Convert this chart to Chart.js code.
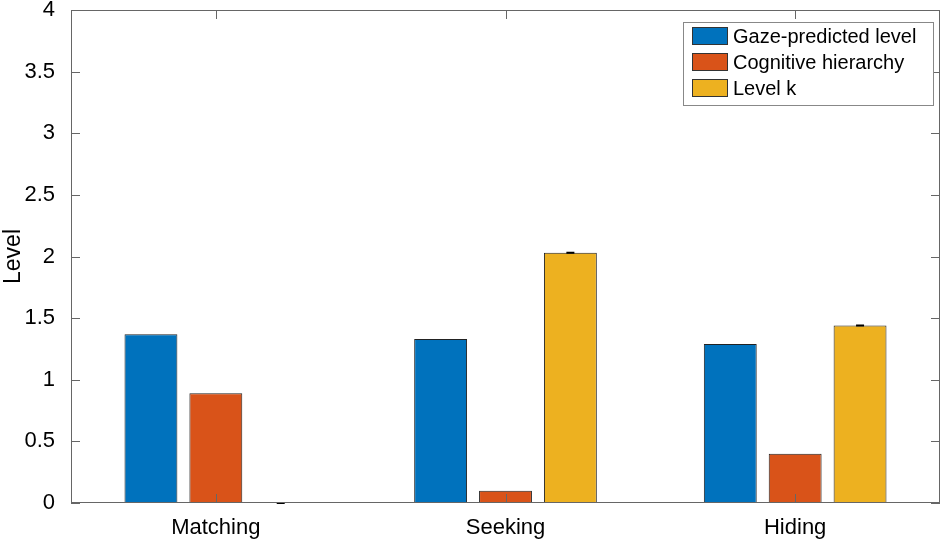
<!DOCTYPE html>
<html>
<head>
<meta charset="utf-8">
<script src="https://cdn.jsdelivr.net/npm/chart.js@4"></script>
<style>
  html, body { margin: 0; padding: 0; background: #fff; }
  #wrap { width: 945px; height: 541px; }
</style>
</head>
<body>
<div id="wrap"><canvas id="chart"></canvas></div>
<script>
// ----------------- Data -----------------
const categories = ["Matching", "Seeking", "Hiding"];
const gazeLevel = [1.37, 1.33, 1.29];
const cognitiveHierarchy = [0.89, 0.10, 0.40];
const levelK = [0.0, 2.03, 1.44];
const levelKErr = [0.003, 0.003, 0.003];
const yTickLabels = ["0", "0.5", "1", "1.5", "2", "2.5", "3", "3.5", "4"];

const FONT = "'Liberation Sans', Arial, Helvetica, sans-serif";
const AXIS_COLOR = "#666666";

// ----------------- Plugins -----------------
// MATLAB-ish box, inward ticks, error caps and legend
const matlabAxes = {
  id: "matlabAxes",
  afterDatasetsDraw(chart) {
    const { ctx, chartArea: a, scales } = chart;
    const x = scales.x, y = scales.y;
    ctx.save();

    // error caps on the level-k bars
    const meta = chart.getDatasetMeta(2);
    ctx.strokeStyle = "#000";
    ctx.lineWidth = 1.2;
    meta.data.forEach((bar, i) => {
      const hi = y.getPixelForValue(levelK[i] + levelKErr[i]);
      const lo = y.getPixelForValue(levelK[i] - levelKErr[i]);
      ctx.beginPath();
      ctx.moveTo(bar.x - 4, hi); ctx.lineTo(bar.x + 4, hi);
      ctx.moveTo(bar.x - 4, lo); ctx.lineTo(bar.x + 4, lo);
      ctx.moveTo(bar.x, hi); ctx.lineTo(bar.x, lo);
      ctx.stroke();
    });

    // box
    ctx.strokeStyle = AXIS_COLOR;
    ctx.lineWidth = 1;
    ctx.strokeRect(a.left + 0.5, a.top + 0.5, a.right - a.left - 1, a.bottom - a.top - 1);

    // inward ticks
    ctx.beginPath();
    y.ticks.forEach(t => {
      const py = Math.round(y.getPixelForValue(t.value)) + 0.5;
      ctx.moveTo(a.left, py); ctx.lineTo(a.left + 9, py);
      ctx.moveTo(a.right, py); ctx.lineTo(a.right - 9, py);
    });
    categories.forEach((c, i) => {
      const px = Math.round(x.getPixelForValue(i)) + 0.5;
      ctx.moveTo(px, a.bottom); ctx.lineTo(px, a.bottom - 9);
      ctx.moveTo(px, a.top); ctx.lineTo(px, a.top + 9);
    });
    ctx.stroke();

    // legend
    const lx = 683, ly = 22, lw = 250, lh = 83;
    ctx.fillStyle = "#fff";
    ctx.fillRect(lx, ly, lw, lh);
    ctx.strokeStyle = "#888";
    ctx.strokeRect(lx + 0.5, ly + 0.5, lw, lh);
    ctx.font = "20px " + FONT;
    ctx.textBaseline = "middle";
    chart.data.datasets.forEach((ds, i) => {
      const cy = ly + 14 + i * 26;
      ctx.fillStyle = ds.backgroundColor;
      ctx.fillRect(lx + 9, cy - 9, 36, 18);
      ctx.strokeStyle = "#333";
      ctx.strokeRect(lx + 9.5, cy - 8.5, 35, 17);
      ctx.fillStyle = "#000";
      ctx.fillText(ds.label, lx + 50, cy + 1);
    });

    ctx.restore();
  }
};

// ----------------- Chart -----------------
const barStyle = { borderColor: "#222", borderWidth: 1, borderSkipped: false,
  categoryPercentage: 0.672, barPercentage: 0.815 };

new Chart(document.getElementById("chart"), {
  type: "bar",
  data: {
    labels: categories,
    datasets: [
      { label: "Gaze-predicted level", data: gazeLevel, backgroundColor: "#0072BD", ...barStyle },
      { label: "Cognitive hierarchy", data: cognitiveHierarchy, backgroundColor: "#D95319", ...barStyle },
      { label: "Level k", data: levelK, backgroundColor: "#EDB120", ...barStyle }
    ]
  },
  options: {
    responsive: true,
    maintainAspectRatio: false,
    animation: false,
    layout: { padding: { top: 0, right: 5, left: 0, bottom: 0 } },
    plugins: { legend: { display: false }, tooltip: { enabled: false } },
    scales: {
      x: {
        grid: { display: false },
        border: { display: false },
        ticks: { color: "#000", font: { family: FONT, size: 22 }, padding: 4 },
        afterFit: s => { s.height = 38; }
      },
      y: {
        min: 0, max: 4,
        grid: { display: false },
        border: { display: false },
        ticks: {
          stepSize: 0.5, color: "#000", padding: 8,
          font: { family: FONT, size: 22 },
          callback: (v, i) => yTickLabels[i]
        },
        title: { display: true, text: "Level", color: "#000", font: { family: FONT, size: 23 }, padding: 0 },
        afterFit: s => { s.width = 71; s.paddingTop = 10; s.paddingBottom = 0; }
      }
    }
  },
  plugins: [matlabAxes]
});
</script>
</body>
</html>
